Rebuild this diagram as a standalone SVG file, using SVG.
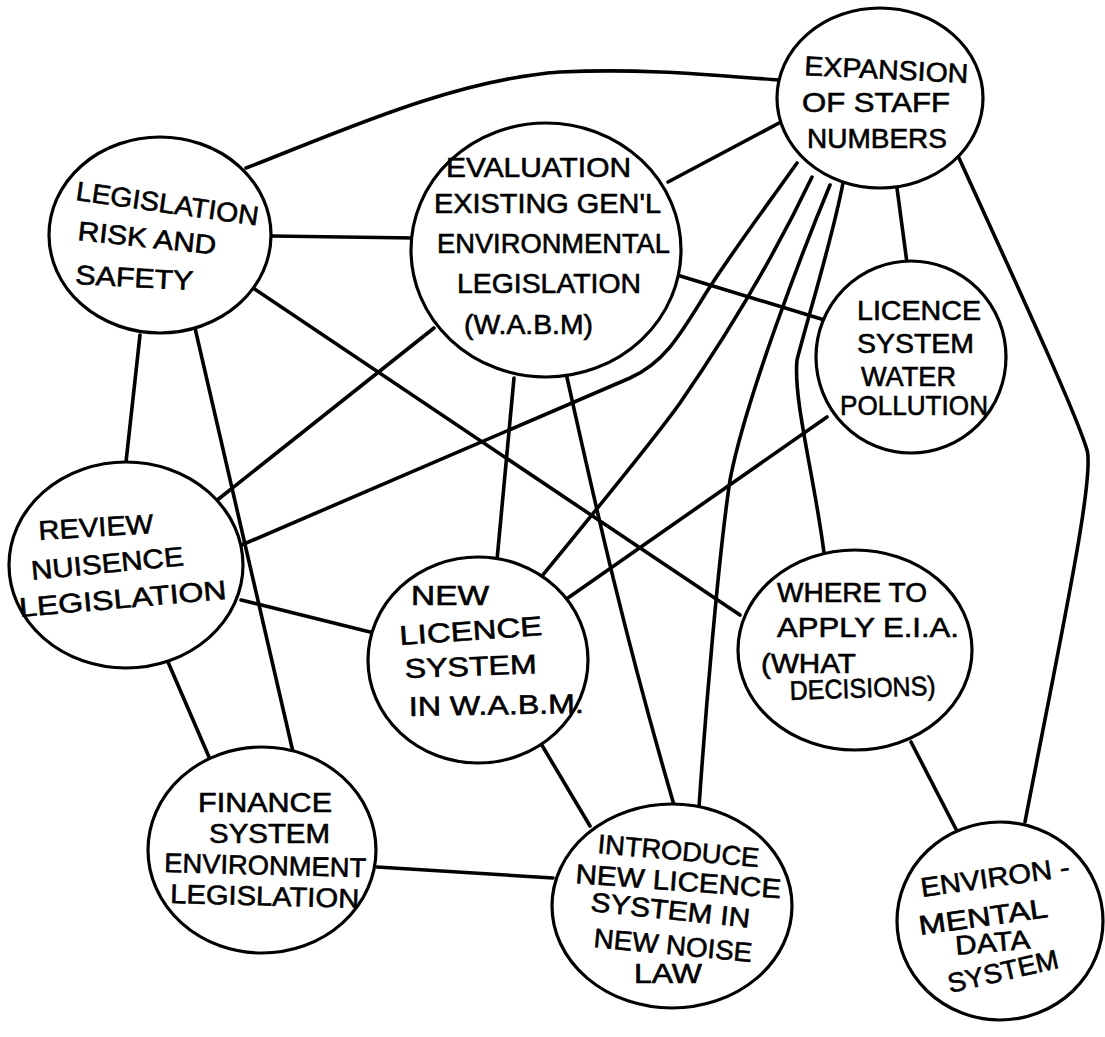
<svg xmlns="http://www.w3.org/2000/svg" width="1105" height="1037" viewBox="0 0 1105 1037">
<style>
.bg{fill:#fff}
.node{fill:#fff;stroke:#000;stroke-width:3.2}
.edge{fill:none;stroke:#000;stroke-width:3.6;stroke-linecap:round;stroke-linejoin:round}
.t{font-family:"Liberation Sans",Arial,sans-serif;font-size:27px;fill:#000;stroke:#000;stroke-width:0.6}
</style>
<rect class="bg" x="0" y="0" width="1105" height="1037"/>
<g id="connectors">
<path class="edge" d="M246,168 C330,136 450,80 560,72 C650,68 720,76 779,80"/>
<path class="edge" d="M271,236 L414,238"/>
<path class="edge" d="M250,286 L740,615"/>
<path class="edge" d="M140,335 L126,462"/>
<path class="edge" d="M195,328 L293,752"/>
<path class="edge" d="M434,328 L211,505"/>
<path class="edge" d="M237,547 L630,378 C665,362 680,335 706,293 C730,255 760,215 797,163"/>
<path class="edge" d="M537,582 C600,505 650,445 680,403 C720,345 770,265 812,177"/>
<path class="edge" d="M566,373 C590,480 620,620 674,805"/>
<path class="edge" d="M830,185 C805,245 745,400 730,480 C718,560 705,720 699,807"/>
<path class="edge" d="M843,183 C832,240 810,310 797,360 C793,400 815,480 824,553"/>
<path class="edge" d="M897,188 L907,263"/>
<path class="edge" d="M959,158 C1010,270 1075,410 1087,450 C1095,478 1060,640 1025,822"/>
<path class="edge" d="M668,182 L781,122"/>
<path class="edge" d="M677,275 L831,322"/>
<path class="edge" d="M514,378 L497,560"/>
<path class="edge" d="M827,417 L565,600"/>
<path class="edge" d="M241,600 L370,632"/>
<path class="edge" d="M168,662 L209,757"/>
<path class="edge" d="M540,742 L590,826"/>
<path class="edge" d="M377,867 L553,878"/>
<path class="edge" d="M911,742 L959,835"/>
</g>
<g id="n-expansion">
<ellipse class="node" cx="880" cy="98" rx="103" ry="90"/>
<text class="t" x="804" y="75" textLength="164" lengthAdjust="spacingAndGlyphs" transform="rotate(2.8 804 75)">EXPANSION</text>
<text class="t" x="802" y="112" textLength="148" lengthAdjust="spacingAndGlyphs">OF  STAFF</text>
<text class="t" x="807" y="148" textLength="140" lengthAdjust="spacingAndGlyphs">NUMBERS</text>
</g>
<g id="n-legislation">
<ellipse class="node" cx="160" cy="235" rx="111" ry="98"/>
<text class="t" x="75" y="200" textLength="184" lengthAdjust="spacingAndGlyphs" transform="rotate(8 75 200)">LEGISLATION</text>
<text class="t" x="77" y="240" textLength="139" lengthAdjust="spacingAndGlyphs" transform="rotate(6 77 240)">RISK  AND</text>
<text class="t" x="75" y="284" textLength="118" lengthAdjust="spacingAndGlyphs" transform="rotate(3 75 284)">SAFETY</text>
</g>
<g id="n-evaluation">
<ellipse class="node" cx="546" cy="250" rx="135" ry="127"/>
<text class="t" x="446" y="177" textLength="185" lengthAdjust="spacingAndGlyphs">EVALUATION</text>
<text class="t" x="434" y="213" textLength="227" lengthAdjust="spacingAndGlyphs">EXISTING GEN'L</text>
<text class="t" x="437" y="253" textLength="233" lengthAdjust="spacingAndGlyphs">ENVIRONMENTAL</text>
<text class="t" x="457" y="293" textLength="184" lengthAdjust="spacingAndGlyphs">LEGISLATION</text>
<text class="t" x="464" y="334" textLength="129" lengthAdjust="spacingAndGlyphs">(W.A.B.M)</text>
</g>
<g id="n-licence-water">
<ellipse class="node" cx="911" cy="357" rx="95" ry="96"/>
<text class="t" x="857" y="320" textLength="124" lengthAdjust="spacingAndGlyphs">LICENCE</text>
<text class="t" x="857" y="353" textLength="117" lengthAdjust="spacingAndGlyphs">SYSTEM</text>
<text class="t" x="861" y="386" textLength="95" lengthAdjust="spacingAndGlyphs">WATER</text>
<text class="t" x="840" y="415" textLength="148" lengthAdjust="spacingAndGlyphs">POLLUTION</text>
</g>
<g id="n-review">
<ellipse class="node" cx="126" cy="565" rx="117" ry="103"/>
<text class="t" x="39" y="540" textLength="115" lengthAdjust="spacingAndGlyphs" transform="rotate(-3.5 39 540)">REVIEW</text>
<text class="t" x="32" y="580" textLength="153" lengthAdjust="spacingAndGlyphs" transform="rotate(-5.5 32 580)">NUISENCE</text>
<text class="t" x="20" y="617" textLength="208" lengthAdjust="spacingAndGlyphs" transform="rotate(-5 20 617)">LEGISLATION</text>
</g>
<g id="n-new-licence">
<ellipse class="node" cx="478" cy="660" rx="110" ry="103"/>
<text class="t" x="411" y="605" textLength="78" lengthAdjust="spacingAndGlyphs">NEW</text>
<text class="t" x="400" y="645" textLength="143" lengthAdjust="spacingAndGlyphs" transform="rotate(-4 400 645)">LICENCE</text>
<text class="t" x="405" y="678" textLength="132" lengthAdjust="spacingAndGlyphs" transform="rotate(-2 405 678)">SYSTEM</text>
<text class="t" x="409" y="716" textLength="175" lengthAdjust="spacingAndGlyphs" transform="rotate(-1 409 716)">IN  W.A.B.M.</text>
</g>
<g id="n-where">
<ellipse class="node" cx="855" cy="650" rx="117" ry="100"/>
<text class="t" x="777" y="602" textLength="150" lengthAdjust="spacingAndGlyphs">WHERE  TO</text>
<text class="t" x="777" y="637" textLength="182" lengthAdjust="spacingAndGlyphs">APPLY  E.I.A.</text>
<text class="t" x="761" y="673" textLength="95" lengthAdjust="spacingAndGlyphs">(WHAT</text>
<text class="t" x="790" y="700" textLength="146" lengthAdjust="spacingAndGlyphs" transform="rotate(-2 790 700)">DECISIONS)</text>
</g>
<g id="n-finance">
<ellipse class="node" cx="262" cy="850" rx="114" ry="103"/>
<text class="t" x="198" y="812" textLength="134" lengthAdjust="spacingAndGlyphs">FINANCE</text>
<text class="t" x="209" y="843" textLength="121" lengthAdjust="spacingAndGlyphs">SYSTEM</text>
<text class="t" x="164" y="872" textLength="202" lengthAdjust="spacingAndGlyphs" transform="rotate(1.5 164 872)">ENVIRONMENT</text>
<text class="t" x="170" y="903" textLength="189" lengthAdjust="spacingAndGlyphs" transform="rotate(1.5 170 903)">LEGISLATION</text>
</g>
<g id="n-introduce">
<ellipse class="node" cx="672" cy="906" rx="120" ry="102"/>
<text class="t" x="597" y="853" textLength="162" lengthAdjust="spacingAndGlyphs" transform="rotate(5 597 853)">INTRODUCE</text>
<text class="t" x="575" y="883" textLength="206" lengthAdjust="spacingAndGlyphs" transform="rotate(4.2 575 883)">NEW LICENCE</text>
<text class="t" x="590" y="911" textLength="160" lengthAdjust="spacingAndGlyphs" transform="rotate(6 590 911)">SYSTEM  IN</text>
<text class="t" x="593" y="947" textLength="159" lengthAdjust="spacingAndGlyphs" transform="rotate(5.4 593 947)">NEW NOISE</text>
<text class="t" x="634" y="983" textLength="68" lengthAdjust="spacingAndGlyphs">LAW</text>
</g>
<g id="n-env-data">
<ellipse class="node" cx="1000" cy="921" rx="103" ry="99"/>
<text class="t" x="922" y="897" textLength="150" lengthAdjust="spacingAndGlyphs" transform="rotate(-8 922 897)">ENVIRON -</text>
<text class="t" x="920" y="935" textLength="130" lengthAdjust="spacingAndGlyphs" transform="rotate(-8 920 935)">MENTAL</text>
<text class="t" x="956" y="955" textLength="75" lengthAdjust="spacingAndGlyphs" transform="rotate(-5 956 955)">DATA</text>
<text class="t" x="950" y="993" textLength="113" lengthAdjust="spacingAndGlyphs" transform="rotate(-13 950 993)">SYSTEM</text>
</g>
</svg>
